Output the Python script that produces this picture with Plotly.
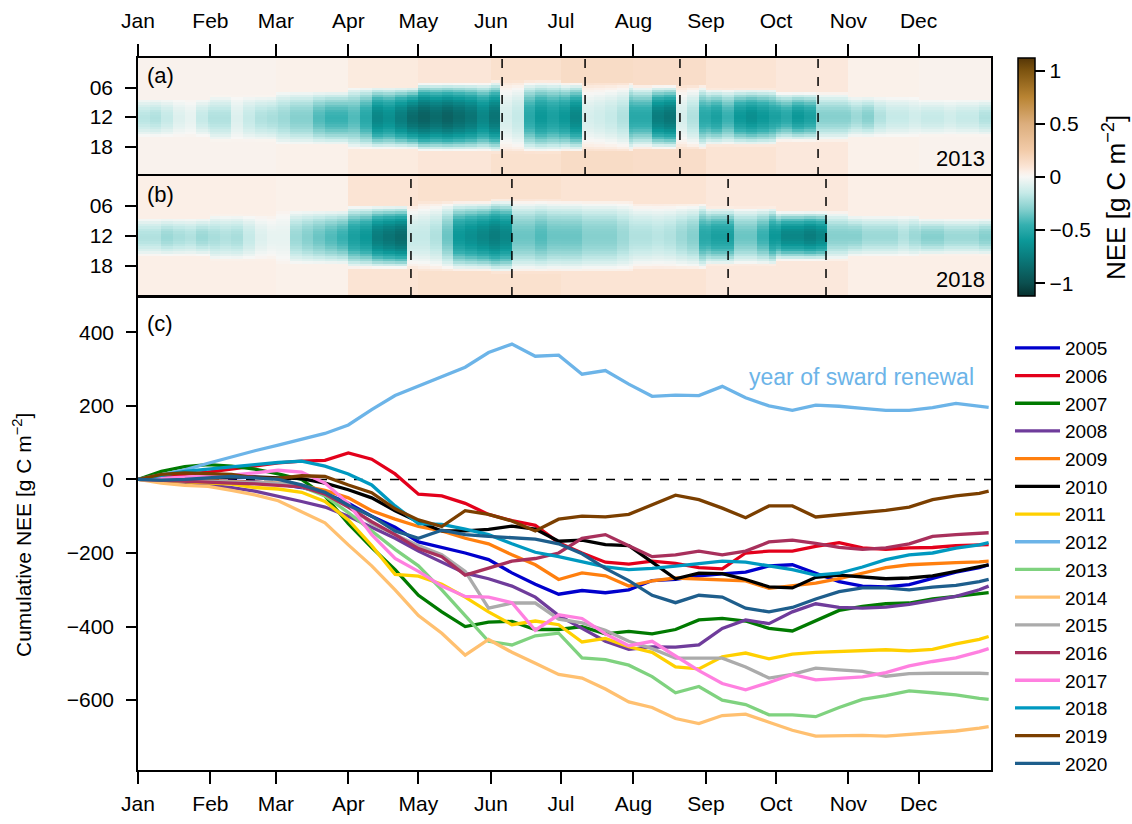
import numpy as np
import plotly.graph_objects as go

W, H = 1132, 824
def fx(px): return px / W
def fy(py): return 1 - py / H

MONTHS = ['Jan', 'Feb', 'Mar', 'Apr', 'May', 'Jun', 'Jul', 'Aug', 'Sep', 'Oct', 'Nov', 'Dec']
MONTH_START = [0, 31, 59, 90, 120, 151, 181, 212, 243, 273, 304, 334]

# ---------------- heatmap data (panel a: 2013, panel b: 2018) ----------------
# midday NEE per 5-day block (g C m-2 per half hour)
PEAK_2013 = [-0.18, -0.2, -0.15, -0.08, -0.05, -0.15, -0.2, -0.2, -0.08, -0.15,
             -0.2, -0.22, -0.25, -0.3, -0.3, -0.4, -0.45, -0.45, -0.4, -0.5,
             -0.7, -0.65, -0.75, -0.85, -0.9, -0.85, -0.9, -0.85, -0.8, -0.7,
             -0.8, -0.1, -0.15, -0.5, -0.6, -0.55, -0.6, -0.7, -0.1, -0.12,
             -0.15, -0.2, -0.5, -0.5, -0.75, -0.8, -0.1, -0.2, -0.5, -0.55,
             -0.45, -0.6, -0.65, -0.6, -0.55, -0.5, -0.6, -0.55, -0.3, -0.3,
             -0.3, -0.25, -0.3, -0.2, -0.15, -0.15, -0.12, -0.15, -0.15, -0.12,
             -0.15, -0.15, -0.2]
PEAK_2018 = [-0.2, -0.2, -0.25, -0.22, -0.2, -0.25, -0.22, -0.2, -0.22, -0.15,
             -0.08, -0.05, -0.05, -0.25, -0.3, -0.35, -0.4, -0.45, -0.55, -0.6,
             -0.75, -0.8, -0.85, -0.15, -0.15, -0.2, -0.35, -0.6, -0.65, -0.7,
             -0.75, -0.7, -0.35, -0.35, -0.4, -0.35, -0.35, -0.35, -0.3, -0.3,
             -0.3, -0.25, -0.2, -0.2, -0.18, -0.2, -0.25, -0.3, -0.5, -0.55,
             -0.55, -0.35, -0.35, -0.45, -0.6, -0.7, -0.7, -0.75, -0.7, -0.3,
             -0.3, -0.3, -0.25, -0.25, -0.25, -0.2, -0.25, -0.3, -0.3, -0.25,
             -0.25, -0.25, -0.3]
# night-time NEE per month
NIGHT_2013 = [0.03, 0.03, 0.04, 0.07, 0.09, 0.12, 0.15, 0.14, 0.1, 0.08, 0.04, 0.03]
NIGHT_2018 = [0.05, 0.05, 0.04, 0.1, 0.12, 0.12, 0.1, 0.1, 0.08, 0.08, 0.05, 0.05]
# edges of the daytime uptake band per month (hour of day)
BAND_START = [8.3, 7.7, 6.8, 5.8, 5.0, 4.6, 4.8, 5.4, 6.2, 7.0, 7.8, 8.4]
BAND_END = [16.0, 16.8, 17.6, 18.5, 19.0, 19.3, 19.2, 18.6, 17.8, 16.9, 16.1, 15.8]
# cutting dates (day of year)
CUTS_2013 = [155.8, 191.3, 231.9, 291.0]
CUTS_2018 = [116.8, 160.0, 252.5, 294.4]

# ---------------- cumulative NEE (panel c) ----------------
DAYS = [0, 10, 20, 30, 40, 50, 60, 70, 80, 90, 100, 110, 120, 130, 140, 150, 160, 170, 180,
        190, 200, 210, 220, 230, 240, 250, 260, 270, 280, 290, 300, 310, 320, 330, 340, 350,
        360, 364]
NEE_2005 = [0, -2, -4, -5, -5, -7, -12, -22, -38, -65, -100, -130, -170, -185, -200, -218, -254, -285, -312, -302,
            -308, -300, -275, -272, -262, -257, -252, -235, -232, -255, -278, -290, -292, -286, -268, -252, -240, -232]
NEE_2006 = [0, 8, 14, 20, 28, 38, 45, 50, 52, 72, 55, 15, -40, -45, -65, -95, -112, -125, -172, -200,
            -225, -230, -222, -228, -240, -243, -200, -195, -195, -182, -172, -186, -190, -186, -185, -180, -178, -177]
NEE_2007 = [0, 22, 35, 40, 36, 28, 15, 0, -45, -120, -185, -245, -315, -360, -400, -388, -386, -408, -408, -400,
            -420, -413, -420, -408, -382, -378, -385, -405, -412, -385, -356, -345, -338, -336, -325, -318, -312, -308]
NEE_2008 = [0, -3, -8, -15, -22, -32, -45, -60, -75, -100, -130, -160, -195, -225, -255, -270, -290, -320, -370, -405,
            -440, -462, -455, -456, -450, -405, -382, -392, -360, -338, -348, -350, -347, -340, -330, -318, -300, -290]
NEE_2009 = [0, 0, -2, -3, -5, -7, -10, -17, -30, -50, -85, -108, -128, -140, -160, -175, -205, -232, -272, -254,
            -262, -290, -276, -268, -270, -272, -276, -296, -290, -282, -270, -255, -240, -232, -228, -226, -224, -222]
NEE_2010 = [0, 3, 5, 5, 7, 7, 4, 2, -10, -28, -50, -85, -115, -140, -140, -136, -127, -135, -168, -165,
            -177, -180, -225, -270, -255, -256, -272, -292, -295, -266, -260, -265, -270, -268, -262, -250, -238, -232]
NEE_2011 = [0, -3, -7, -10, -13, -22, -26, -35, -60, -110, -180, -258, -263, -285, -320, -360, -395, -385, -395, -442,
            -432, -455, -470, -510, -515, -482, -472, -488, -475, -470, -467, -464, -463, -466, -462, -447, -435, -427]
NEE_2012 = [0, 12, 26, 44, 62, 78, 93, 108, 125, 148, 190, 228, 253, 278, 305, 345, 368, 335, 338, 286,
            296, 259, 226, 229, 228, 253, 222, 200, 188, 202, 199, 193, 188, 188, 195, 207, 200, 196]
NEE_2013 = [0, -2, -5, -8, -10, -11, -12, -20, -45, -90, -140, -190, -235, -300, -370, -440, -450, -425, -418, -485,
            -490, -505, -536, -580, -563, -600, -612, -640, -640, -645, -620, -598, -588, -575, -580, -586, -595, -598]
NEE_2014 = [0, -10, -16, -19, -30, -42, -58, -88, -118, -178, -235, -300, -370, -418, -478, -435, -470, -500, -530, -540,
            -570, -605, -620, -650, -664, -642, -638, -660, -682, -698, -697, -696, -698, -694, -688, -684, -676, -672]
NEE_2015 = [0, -2, -4, -5, -7, -9, -10, -16, -40, -70, -120, -150, -180, -205, -250, -350, -336, -336, -380, -390,
            -410, -440, -460, -486, -486, -486, -510, -540, -530, -513, -518, -522, -535, -528, -527, -526, -527, -528]
NEE_2016 = [0, -3, -5, -8, -10, -12, -15, -20, -40, -75, -115, -150, -188, -210, -260, -240, -222, -215, -200, -160,
            -150, -180, -210, -205, -195, -205, -195, -170, -165, -174, -185, -190, -186, -175, -155, -150, -147, -145]
NEE_2017 = [0, 3, 5, 8, 12, 18, 25, 20, -10, -65, -150, -215, -250, -290, -318, -320, -335, -410, -368, -378,
            -420, -452, -440, -480, -520, -555, -572, -552, -530, -545, -540, -537, -525, -507, -495, -485, -468, -460]
NEE_2018 = [0, 10, 22, 28, 35, 40, 46, 50, 36, 15, -15, -72, -120, -122, -135, -150, -175, -198, -210, -225,
            -238, -245, -242, -236, -230, -222, -225, -235, -245, -260, -255, -238, -218, -205, -200, -187, -178, -172]
NEE_2019 = [0, 14, 18, 15, 14, 5, 3, 10, 8, -15, -36, -80, -110, -128, -85, -95, -113, -140, -108, -100,
            -102, -95, -70, -43, -55, -78, -104, -72, -72, -102, -96, -90, -84, -75, -55, -45, -38, -32]
NEE_2020 = [0, -2, 0, 5, 8, 4, 0, -15, -35, -70, -100, -140, -160, -138, -150, -155, -158, -162, -175, -202,
            -242, -275, -315, -335, -315, -320, -350, -360, -348, -325, -305, -295, -295, -300, -293, -288, -278, -272]

YEARS = ['2005', '2006', '2007', '2008', '2009', '2010', '2011', '2012', '2013',
         '2014', '2015', '2016', '2017', '2018', '2019', '2020']
SERIES = [NEE_2005, NEE_2006, NEE_2007, NEE_2008, NEE_2009, NEE_2010, NEE_2011, NEE_2012,
          NEE_2013, NEE_2014, NEE_2015, NEE_2016, NEE_2017, NEE_2018, NEE_2019, NEE_2020]
COLORS = ['#0000CD', '#E3001B', '#007A00', '#6F3C9B', '#FF7F0E', '#000000', '#FFD000', '#6CB4E8',
          '#7FD27F', '#FFC070', '#ABABAB', '#A8305C', '#FF80E0', '#0099C0', '#7B3F00', '#1E5E8C']

# ---------------- build heatmap grids ----------------
HOURS = np.arange(48) * 0.5 + 0.25
DOY = np.arange(365)

def month_of(d):
    m = 0
    for i, s in enumerate(MONTH_START):
        if d >= s:
            m = i
    return m

def build(peak, night):
    z = np.zeros((48, 365))
    for d in DOY:
        m = month_of(d)
        r, s = BAND_START[m], BAND_END[m]
        p = peak[min(d // 5, len(peak) - 1)]
        n = night[m]
        for j, h in enumerate(HOURS):
            w = np.sin(np.pi * (h - r) / (s - r)) ** 0.8 if r < h < s else 0.0
            z[j, d] = n + (p - n) * w
    return z

Z13 = build(PEAK_2013, NIGHT_2013)
Z18 = build(PEAK_2018, NIGHT_2018)

ZMAX = 1.12
def cs(v): return (v + ZMAX) / (2 * ZMAX)
COLORSCALE = [
    [cs(-1.12), '#06302f'], [cs(-1.0), '#0b4f4f'], [cs(-0.75), '#0a7d7e'],
    [cs(-0.6), '#0c9898'], [cs(-0.45), '#35b0b0'], [cs(-0.3), '#86d0ce'],
    [cs(-0.15), '#c6eae8'], [cs(0.0), '#f7f7f5'], [cs(0.05), '#fbefe7'],
    [cs(0.1), '#fbe4d4'], [cs(0.25), '#f2cba9'], [cs(0.5), '#dcae7d'],
    [cs(0.75), '#b98433'], [cs(1.0), '#7d5410'], [cs(1.12), '#553607'],
]

FONT = 'Liberation Sans, Arial, sans-serif'
FS = 21

fig = go.Figure()
xc = DOY + 0.5
fig.add_trace(go.Heatmap(x=xc, y=HOURS, z=Z13, coloraxis='coloraxis', xaxis='x', yaxis='y',
                         hoverinfo='skip'))
fig.add_trace(go.Heatmap(x=xc, y=HOURS, z=Z18, coloraxis='coloraxis', xaxis='x2', yaxis='y2',
                         hoverinfo='skip'))

for yr, vals, col in zip(YEARS, SERIES, COLORS):
    fig.add_trace(go.Scatter(x=DAYS, y=vals, mode='lines', name=yr,
                             line=dict(color=col, width=3.3), xaxis='x3', yaxis='y3',
                             legendgroup=yr))

XD = [fx(138), fx(991)]
axis_common = dict(showline=True, linecolor='black', linewidth=1.5, mirror=True, automargin=False,
                   showgrid=False, zeroline=False, tickcolor='black', tickwidth=1.5,
                   tickfont=dict(family=FONT, size=FS, color='black'))

layout = dict(
    template='none',
    width=W, height=H, margin=dict(l=0, r=0, t=0, b=0, pad=0, autoexpand=False),
    paper_bgcolor='white', plot_bgcolor='white',
    font=dict(family=FONT, size=FS, color='black'),
    xaxis=dict(domain=XD, range=[0, 365], side='top', anchor='y', ticks='outside', ticklen=12,
               tickvals=MONTH_START, ticktext=MONTHS, ticklabelstandoff=8, **axis_common),
    yaxis=dict(domain=[fy(176), fy(58)], range=[24, 0], anchor='x', ticks='outside', ticklen=11,
               tickvals=[6, 12, 18], ticktext=['06', '12', '18'], ticklabelstandoff=8, **axis_common),
    xaxis2=dict(domain=XD, range=[0, 365], anchor='y2', ticks='', showticklabels=False, **axis_common),
    yaxis2=dict(domain=[fy(296), fy(176)], range=[24, 0], anchor='x2', ticks='outside', ticklen=11,
                tickvals=[6, 12, 18], ticktext=['06', '12', '18'], ticklabelstandoff=8, **axis_common),
    xaxis3=dict(domain=XD, range=[0, 365], anchor='y3', ticks='outside', ticklen=12,
                tickvals=MONTH_START, ticktext=MONTHS, ticklabelstandoff=2, **axis_common),
    yaxis3=dict(domain=[fy(770), fy(297)], range=[-790, 496], anchor='x3', ticks='outside', ticklen=10,
                tickvals=[-600, -400, -200, 0, 200, 400], ticklabelstandoff=8, **axis_common),
    coloraxis=dict(colorscale=COLORSCALE, cmin=-ZMAX, cmax=ZMAX,
                   colorbar=dict(x=fx(1018), xanchor='left', y=fy(58), yanchor='top',
                                 len=(296 - 58) / H, lenmode='fraction', thickness=17,
                                 thicknessmode='pixels', outlinewidth=1.5, outlinecolor='black',
                                 ticks='outside', ticklen=10, tickwidth=1.5, tickcolor='black',
                                 tickvals=[-1, -0.5, 0, 0.5, 1],
                                 ticktext=['\u22121', '\u22120.5', '0', '0.5', '1'],
                                 tickfont=dict(family=FONT, size=FS, color='black'),
                                 xpad=0, ypad=0)),
    legend=dict(x=fx(1010), y=fy(329), xanchor='left', yanchor='top', tracegroupgap=0,
                font=dict(family=FONT, size=19, color='black'), bgcolor='rgba(0,0,0,0)',
                itemwidth=45),
    showlegend=True,
)
fig.update_layout(**layout)

shapes = []
for c in CUTS_2013:
    shapes.append(dict(type='line', xref='x', yref='y domain', x0=c, x1=c, y0=0, y1=1,
                       line=dict(color='black', width=1.5, dash='dash')))
for c in CUTS_2018:
    shapes.append(dict(type='line', xref='x2', yref='y2 domain', x0=c, x1=c, y0=0, y1=1,
                       line=dict(color='black', width=1.5, dash='dash')))
shapes.append(dict(type='line', xref='x3', yref='y3', x0=0, x1=365, y0=0, y1=0, layer='below',
                   line=dict(color='black', width=1.5, dash='dash')))
fig.update_layout(shapes=shapes)

def A(text, px, py, xa='left', size=22, color='black', angle=0):
    return dict(text=text, x=fx(px), y=fy(py), xref='paper', yref='paper', xanchor=xa,
                yanchor='middle', showarrow=False, textangle=angle,
                font=dict(family=FONT, size=size, color=color))

ann = [
    A('(a)', 145, 75), A('(b)', 145, 194), A('(c)', 145, 323),
    A('2013', 987, 159, 'right'), A('2018', 987, 279, 'right'),
    A('year of sward renewal', 976, 377, 'right', size=23, color='#6CB4E8'),
    A('Cumulative NEE [g C m<sup>\u22122</sup>]', 22, 535, 'center', size=21, angle=-90),
    A('NEE [g C m<sup>\u22122</sup>]', 1114, 198, 'center', size=26, angle=-90),
]
fig.update_layout(annotations=ann)

fig.write_html('out.html')
